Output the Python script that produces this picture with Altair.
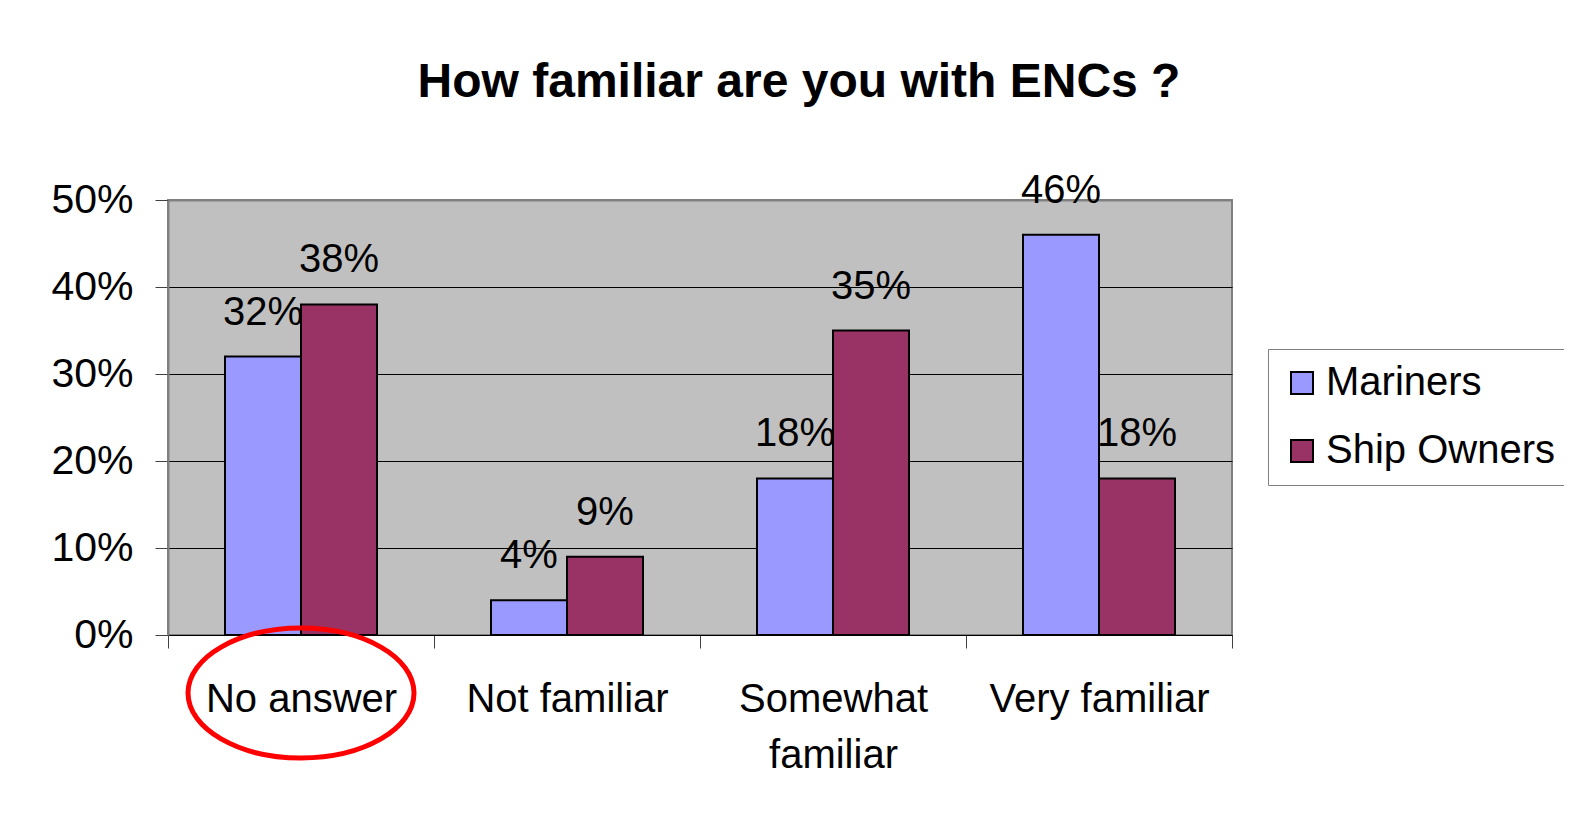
import altair as alt
import pandas as pd

categories = ["No answer", "Not familiar", "Somewhat familiar", "Very familiar"]
series = ["Mariners", "Ship Owners"]
mariners = [0.32, 0.04, 0.18, 0.46]
ship_owners = [0.38, 0.09, 0.35, 0.18]
colors = ["#9999FF", "#993366"]
y_ticks = [0, 0.1, 0.2, 0.3, 0.4, 0.5]
highlighted = ["No answer"]

rows = []
for c, m, s in zip(categories, mariners, ship_owners):
    rows.append({"category": c, "series": series[0], "value": m})
    rows.append({"category": c, "series": series[1], "value": s})
df = pd.DataFrame(rows)

FONT = "Liberation Sans"

x = alt.X(
    "category:N", sort=categories, title=None,
    scale=alt.Scale(paddingInner=0, paddingOuter=0),
    axis=alt.Axis(
        labelAngle=0, labelFontSize=40, labelFont=FONT, labelColor="black",
        labelPadding=31, tickSize=13, tickColor="#404040", tickWidth=1,
        domainColor="black", domainWidth=1, tickBand="extent",
        labelLineHeight=56, labelLimit=400,
        labelExpr="datum.value == 'Somewhat familiar' ? ['Somewhat', 'familiar'] : datum.label",
    ),
)
y = alt.Y(
    "value:Q", title=None, scale=alt.Scale(domain=[0, 0.5], nice=False),
    axis=alt.Axis(
        values=y_ticks, format=".0%", labelFontSize=41, labelFont=FONT,
        labelColor="black", labelPadding=22, tickSize=13, tickColor="#404040",
        domainColor="#808080", domainWidth=2, grid=True,
        gridColor=alt.condition("datum.value >= 0.5", alt.value("#808080"), alt.value("black")),
        gridWidth=alt.condition("datum.value >= 0.5", alt.value(2), alt.value(1)),
    ),
)
xoff = alt.XOffset("series:N", sort=series, scale=alt.Scale(paddingInner=0, paddingOuter=0.75))

bars = alt.Chart(df).mark_bar(stroke="black", strokeWidth=2).encode(
    x=x, xOffset=xoff, y=y,
    color=alt.Color(
        "series:N", sort=series, scale=alt.Scale(domain=series, range=colors),
        legend=alt.Legend(
            title=None, orient="none", legendX=1100, legendY=149,
            symbolType="square", symbolSize=484, symbolStrokeColor="black",
            symbolStrokeWidth=2, labelFontSize=40, labelFont=FONT, labelColor="black",
            rowPadding=28, padding=14, strokeColor="#808080", fillColor="white",
            labelOffset=4, labelLimit=400,
        ),
    ),
)

labels = alt.Chart(df).mark_text(
    dy=-32, baseline="alphabetic", fontSize=40, font=FONT, color="black"
).encode(
    x=x, xOffset=xoff, y=y, text=alt.Text("value:Q", format=".0%")
)

ellipse = alt.Chart(pd.DataFrame({"category": highlighted})).mark_point(
    shape="M-1,0A1,0.575,0,1,1,1,0A1,0.575,0,1,1,-1,0Z",
    size=51076, filled=False, stroke="red", strokeWidth=5, opacity=1,
).encode(x=alt.X("category:N", sort=categories), y=alt.value(493))

chart = (
    alt.layer(bars, labels, ellipse)
    .properties(
        width=1064, height=435,
        autosize=alt.AutoSizeParams(type="none"),
        padding={"left": 160, "top": 192, "right": 332, "bottom": 170},
        title=alt.TitleParams(
            "How familiar are you with ENCs ?", fontSize=48, font=FONT,
            fontWeight="bold", color="black", anchor="middle", dx=99,
            baseline="alphabetic", offset=26,
        ),
        background="white",
    )
    .configure_view(fill="#C0C0C0", stroke="#808080", strokeWidth=2)
)

chart.save("out.html", embed_options={"renderer": "svg", "actions": False})
